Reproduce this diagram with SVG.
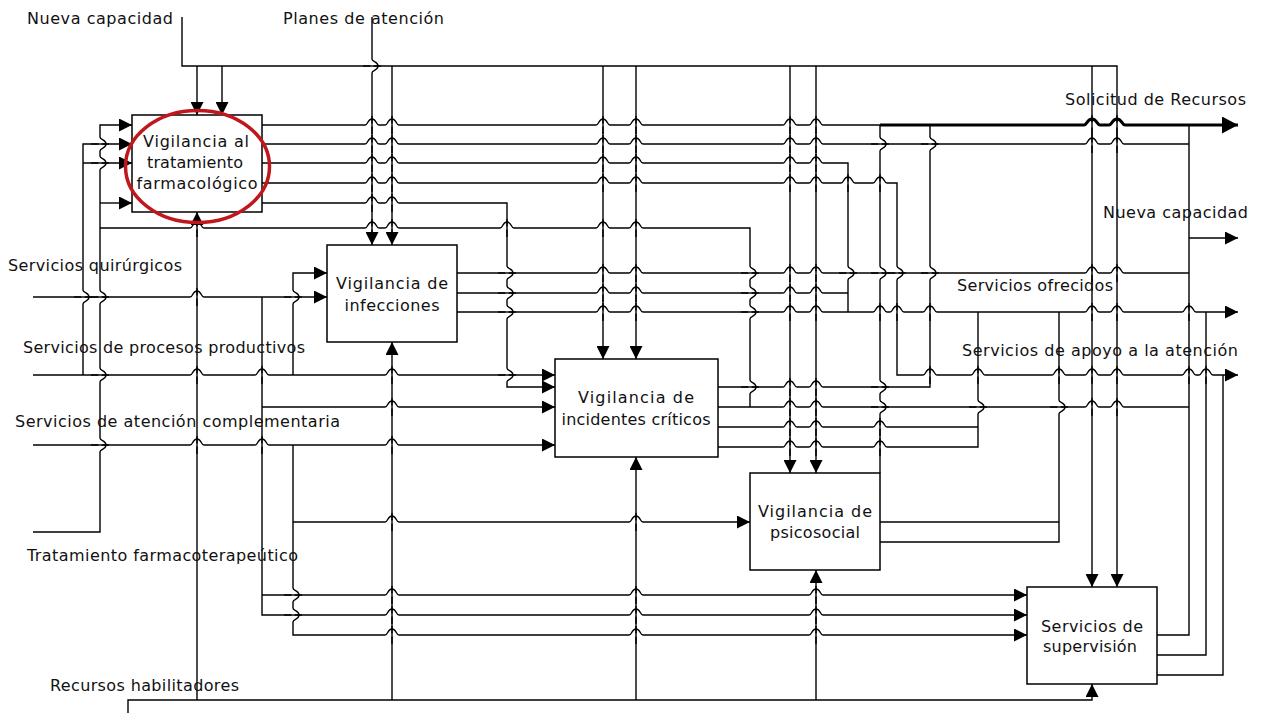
<svg xmlns="http://www.w3.org/2000/svg" width="1261" height="713" viewBox="0 0 1261 713">
<style>
.bx{fill:#fff;stroke:#000;stroke-width:1.5}
.t{font-family:"DejaVu Sans","Liberation Sans",sans-serif;font-size:16px;fill:#111}
.c{text-anchor:middle}
.ln{fill:none;stroke:#000;stroke-width:1.4}
.a{marker-end:url(#ah)}
.thick{stroke-width:3}
</style>
<defs>
<marker id="ah" markerUnits="userSpaceOnUse" markerWidth="13" markerHeight="13" viewBox="0 0 13 13" refX="13" refY="6.5" orient="auto"><path d="M0,0 L13,6.5 L0,13 z" fill="#000"/></marker>
<marker id="ahb" markerUnits="userSpaceOnUse" markerWidth="16" markerHeight="17" viewBox="0 0 16 17" refX="16" refY="8.5" orient="auto"><path d="M0,0 L16,8.5 L0,17 z" fill="#000"/></marker>
<g id="jh"><path d="M-7,0H7" stroke="#fff" stroke-width="3.2"/><path d="M0,-9V9" stroke="#000" stroke-width="1.4"/><path d="M-7,0C-4,0 -4.5,-6 0,-6C4.5,-6 4,0 7,0" fill="none" stroke="#000" stroke-width="1.4"/></g>
<g id="jht"><path d="M-8,0H8" stroke="#fff" stroke-width="5"/><path d="M0,-10V10" stroke="#000" stroke-width="1.4"/><path d="M-8,0C-5,0 -5,-6 0,-6C5,-6 5,0 8,0" fill="none" stroke="#000" stroke-width="3"/></g>
<g id="jv"><path d="M0,-7V7" stroke="#fff" stroke-width="3.2"/><path d="M-9,0H9" stroke="#000" stroke-width="1.4"/><path d="M0,-7C0,-4 6,-4.5 6,0C6,4.5 0,4 0,7" fill="none" stroke="#000" stroke-width="1.4"/></g>
</defs>
<rect width="1261" height="713" fill="#fff"/>

<g id="n1"><rect class="bx" x="132" y="115" width="130" height="97"/>
<text class="t c" x="196" y="147" textLength="106">Vigilancia al</text>
<text class="t c" x="195" y="168" textLength="96">tratamiento</text>
<text class="t c" x="197" y="189" textLength="121">farmacológico</text></g>
<g id="n2"><rect class="bx" x="327" y="245" width="130" height="97"/>
<text class="t c" x="392" y="289" textLength="112">Vigilancia de</text>
<text class="t c" x="392" y="311" textLength="95">infecciones</text></g>
<g id="n3"><rect class="bx" x="555" y="359" width="163" height="98"/>
<text class="t c" x="636" y="403" textLength="116">Vigilancia de</text>
<text class="t c" x="636" y="425" textLength="149">incidentes críticos</text></g>
<g id="n4"><rect class="bx" x="750" y="473" width="130" height="97"/>
<text class="t c" x="815" y="517" textLength="114">Vigilancia de</text>
<text class="t c" x="815" y="538" textLength="90">psicosocial</text></g>
<g id="n5"><rect class="bx" x="1027" y="587" width="130" height="97"/>
<text class="t c" x="1092" y="632" textLength="102">Servicios de</text>
<text class="t c" x="1090" y="652" textLength="94">supervisión</text></g>

<g id="connectors">
<path class="ln a" d="M182,17V66H1117V587"/>
<path class="ln a" d="M197,66V115"/>
<path class="ln a" d="M222,66V115"/>
<path class="ln a" d="M392,66V245"/>
<path class="ln a" d="M603,66V359"/>
<path class="ln a" d="M636,66V359"/>
<path class="ln a" d="M790,66V473"/>
<path class="ln a" d="M816,66V473"/>
<path class="ln a" d="M1092,66V587"/>
<path class="ln a" d="M372,17V245"/>

<path class="ln a" d="M33,297H327"/>
<path class="ln a" d="M262,297V615H1027"/>
<path class="ln a" d="M262,407H555"/>
<path class="ln a" d="M262,595H1027"/>
<path class="ln a" d="M33,375H555"/>
<path class="ln a" d="M83,375V144H132"/>
<path class="ln a" d="M83,163H132"/>
<path class="ln a" d="M293,375V273H327"/>
<path class="ln a" d="M33,445H555"/>
<path class="ln a" d="M293,445V635H1027"/>
<path class="ln a" d="M293,522H750"/>
<path class="ln a" d="M33,532H100V125H132"/>
<path class="ln a" d="M100,203H132"/>
<path class="ln" d="M100,228H750V407"/>

<path class="ln a" d="M128,713V700H1092V684"/>
<path class="ln a" d="M197,700V212"/>
<path class="ln a" d="M392,700V342"/>
<path class="ln a" d="M636,700V457"/>
<path class="ln a" d="M816,700V570"/>

<path class="ln" d="M262,125H880"/>
<path class="ln thick" d="M880,125H1238" marker-end="url(#ahb)"/>
<path class="ln" d="M262,144H1189"/>
<path class="ln" d="M262,163H848V312"/>
<path class="ln a" d="M262,183H897V375H1238"/>
<path class="ln a" d="M262,203H507V387H555"/>

<path class="ln" d="M457,273H1189"/>
<path class="ln" d="M457,293H848"/>
<path class="ln a" d="M457,312H1238"/>

<path class="ln" d="M718,387H930V125"/>
<path class="ln" d="M718,407H1189"/>
<path class="ln" d="M718,427H978"/>
<path class="ln" d="M718,447H978V312"/>

<path class="ln" d="M880,522H1059"/>
<path class="ln" d="M880,542H1059V312"/>
<path class="ln" d="M880,125V473"/>

<path class="ln" d="M1157,635H1189V125"/>
<path class="ln" d="M1157,655H1206V312"/>
<path class="ln" d="M1157,675H1223V375"/>
<path class="ln a" d="M1189,238H1238"/>

<use href="#jh" x="372" y="125"/><use href="#jh" x="392" y="125"/><use href="#jh" x="603" y="125"/><use href="#jh" x="636" y="125"/><use href="#jh" x="790" y="125"/><use href="#jh" x="816" y="125"/>
<use href="#jht" x="1092" y="125"/><use href="#jht" x="1117" y="125"/>
<use href="#jh" x="372" y="144"/><use href="#jh" x="392" y="144"/><use href="#jh" x="603" y="144"/><use href="#jh" x="636" y="144"/><use href="#jh" x="790" y="144"/><use href="#jh" x="816" y="144"/><use href="#jh" x="1092" y="144"/><use href="#jh" x="1117" y="144"/>
<use href="#jh" x="372" y="163"/><use href="#jh" x="392" y="163"/><use href="#jh" x="603" y="163"/><use href="#jh" x="636" y="163"/><use href="#jh" x="790" y="163"/><use href="#jh" x="816" y="163"/>
<use href="#jh" x="372" y="183"/><use href="#jh" x="392" y="183"/><use href="#jh" x="603" y="183"/><use href="#jh" x="636" y="183"/><use href="#jh" x="790" y="183"/><use href="#jh" x="816" y="183"/><use href="#jh" x="848" y="183"/><use href="#jh" x="880" y="183"/>
<use href="#jh" x="372" y="203"/><use href="#jh" x="392" y="203"/>
<use href="#jh" x="197" y="228"/><use href="#jh" x="372" y="228"/><use href="#jh" x="392" y="228"/><use href="#jh" x="507" y="228"/><use href="#jh" x="603" y="228"/><use href="#jh" x="636" y="228"/>
<use href="#jh" x="603" y="273"/><use href="#jh" x="636" y="273"/><use href="#jh" x="790" y="273"/><use href="#jh" x="816" y="273"/><use href="#jh" x="1092" y="273"/><use href="#jh" x="1117" y="273"/>
<use href="#jh" x="603" y="293"/><use href="#jh" x="636" y="293"/><use href="#jh" x="790" y="293"/><use href="#jh" x="816" y="293"/>
<use href="#jh" x="603" y="312"/><use href="#jh" x="636" y="312"/><use href="#jh" x="790" y="312"/><use href="#jh" x="816" y="312"/><use href="#jh" x="880" y="312"/><use href="#jh" x="897" y="312"/><use href="#jh" x="930" y="312"/><use href="#jh" x="1092" y="312"/><use href="#jh" x="1117" y="312"/><use href="#jh" x="1189" y="312"/>
<use href="#jh" x="930" y="375"/><use href="#jh" x="978" y="375"/><use href="#jh" x="1059" y="375"/><use href="#jh" x="1092" y="375"/><use href="#jh" x="1117" y="375"/><use href="#jh" x="1189" y="375"/><use href="#jh" x="1206" y="375"/>
<use href="#jh" x="790" y="387"/><use href="#jh" x="816" y="387"/>
<use href="#jh" x="790" y="407"/><use href="#jh" x="816" y="407"/><use href="#jh" x="1092" y="407"/><use href="#jh" x="1117" y="407"/>
<use href="#jh" x="790" y="427"/><use href="#jh" x="816" y="427"/><use href="#jh" x="880" y="427"/>
<use href="#jh" x="790" y="447"/><use href="#jh" x="816" y="447"/><use href="#jh" x="880" y="447"/>
<use href="#jh" x="197" y="297"/>
<use href="#jh" x="197" y="375"/><use href="#jh" x="262" y="375"/><use href="#jh" x="392" y="375"/>
<use href="#jh" x="392" y="407"/>
<use href="#jh" x="197" y="445"/><use href="#jh" x="262" y="445"/><use href="#jh" x="392" y="445"/>
<use href="#jh" x="392" y="522"/><use href="#jh" x="636" y="522"/>
<use href="#jh" x="392" y="595"/><use href="#jh" x="636" y="595"/><use href="#jh" x="816" y="595"/>
<use href="#jh" x="392" y="615"/><use href="#jh" x="636" y="615"/><use href="#jh" x="816" y="615"/>
<use href="#jh" x="392" y="635"/><use href="#jh" x="636" y="635"/><use href="#jh" x="816" y="635"/>

<use href="#jv" x="372" y="66"/>
<use href="#jv" x="100" y="144"/><use href="#jv" x="100" y="163"/><use href="#jv" x="100" y="297"/><use href="#jv" x="100" y="375"/><use href="#jv" x="100" y="445"/>
<use href="#jv" x="83" y="297"/>
<use href="#jv" x="293" y="297"/><use href="#jv" x="293" y="595"/><use href="#jv" x="293" y="615"/>
<use href="#jv" x="507" y="273"/><use href="#jv" x="507" y="293"/><use href="#jv" x="507" y="312"/><use href="#jv" x="507" y="375"/>
<use href="#jv" x="750" y="273"/><use href="#jv" x="750" y="293"/><use href="#jv" x="750" y="312"/><use href="#jv" x="750" y="387"/>
<use href="#jv" x="848" y="273"/>
<use href="#jv" x="880" y="144"/><use href="#jv" x="880" y="273"/><use href="#jv" x="880" y="387"/><use href="#jv" x="880" y="407"/>
<use href="#jv" x="897" y="273"/>
<use href="#jv" x="930" y="144"/><use href="#jv" x="930" y="273"/>
<use href="#jv" x="978" y="407"/><use href="#jv" x="1059" y="407"/>
</g>

<g id="labels">
<text class="t" x="27" y="24" textLength="146">Nueva capacidad</text>
<text class="t" x="283" y="24" textLength="161">Planes de atención</text>
<text class="t" x="1065" y="105" textLength="181">Solicitud de Recursos</text>
<text class="t" x="1103" y="218" textLength="145">Nueva capacidad</text>
<text class="t" x="957" y="291" textLength="156">Servicios ofrecidos</text>
<text class="t" x="962" y="356" textLength="276">Servicios de apoyo a la atención</text>
<text class="t" x="8" y="271" textLength="174">Servicios quirúrgicos</text>
<text class="t" x="23" y="353" textLength="282">Servicios de procesos productivos</text>
<text class="t" x="15" y="427" textLength="325">Servicios de atención complementaria</text>
<text class="t" x="27" y="561" textLength="271">Tratamiento farmacoterapeútico</text>
<text class="t" x="50" y="691" textLength="189">Recursos habilitadores</text>
</g>

<ellipse cx="197.5" cy="166.5" rx="72" ry="56" fill="none" stroke="#c0171d" stroke-width="3.5"/>
</svg>
